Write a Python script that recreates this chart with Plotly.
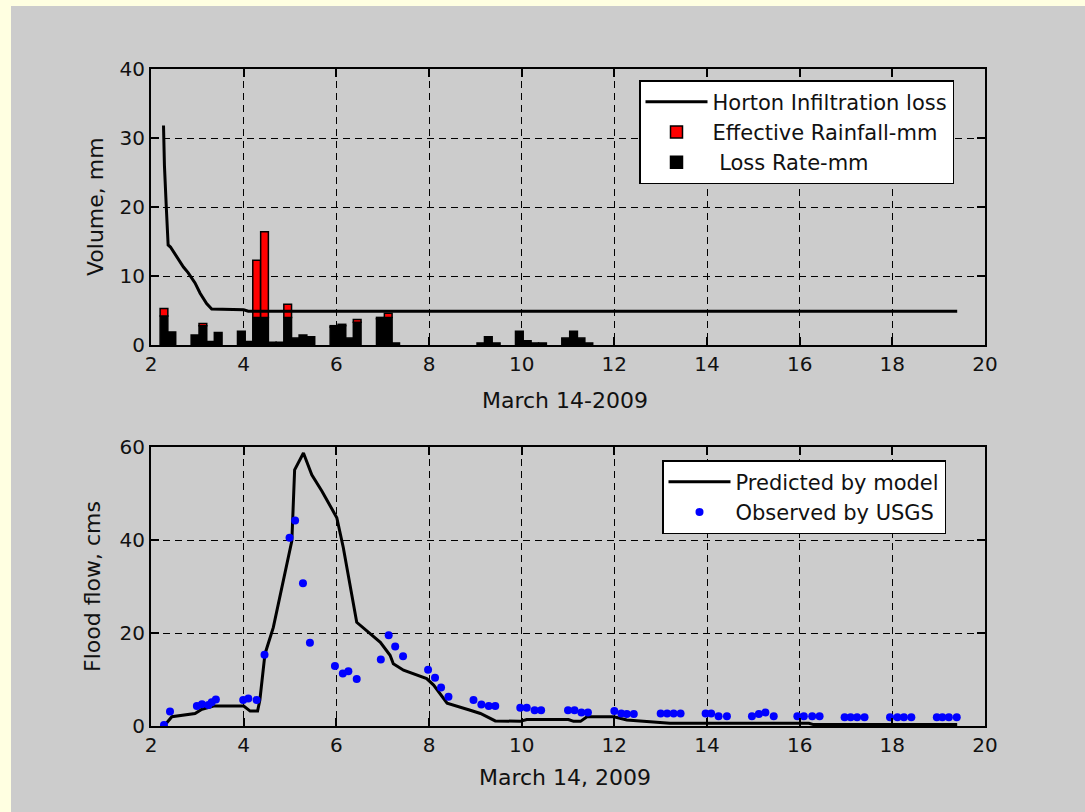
import plotly.graph_objects as go

# ---------------- data ----------------
# Top panel: rainfall bars (time in hours, March 14 2009)
bar_t = [2.28, 2.45, 2.95, 3.12, 3.28, 3.45, 3.95, 4.12, 4.28, 4.45, 4.62, 4.78,
         4.95, 5.12, 5.28, 5.45, 5.95, 6.12, 6.28, 6.45, 6.95, 7.12, 7.28,
         9.12, 9.28, 9.45, 9.95, 10.12, 10.28, 10.45, 10.95, 11.12, 11.28, 11.45]
loss_rate = [4.2, 1.9, 1.45, 2.8, 0.5, 1.8, 2.0, 0.5, 4.0, 4.0, 0.4, 0.4,
             4.0, 1.0, 1.45, 1.2, 2.6, 2.8, 1.0, 3.3, 3.8, 4.0, 0.3,
             0.3, 1.2, 0.3, 2.0, 0.6, 0.3, 0.3, 1.0, 2.0, 1.0, 0.3]
eff_rain = [1.1, 0, 0, 0.3, 0, 0, 0, 0, 8.3, 12.4, 0, 0,
            1.9, 0, 0, 0, 0.2, 0.2, 0, 0.4, 0.2, 0.6, 0,
            0, 0, 0, 0, 0, 0, 0, 0, 0, 0, 0]

# Horton infiltration loss curve
horton_t = [2.27, 2.29, 2.33, 2.37, 2.42, 2.55, 2.70, 2.80, 2.95, 3.06, 3.20, 3.31, 4.00, 4.10, 19.40]
horton_v = [31.8, 26.0, 20.0, 14.5, 14.2, 12.8, 11.3, 10.5, 9.0, 7.5, 6.0, 5.2, 5.1, 4.9, 4.9]

# Bottom panel: flood flow
pred_t = [2.30, 2.45, 2.95, 3.10, 3.35, 4.00, 4.14, 4.30, 4.35, 4.46, 4.64, 5.04, 5.10,
          5.29, 5.47, 5.69, 6.01, 6.15, 6.44, 6.66, 6.95, 7.16, 7.23, 7.45, 7.95, 8.10,
          8.39, 8.89, 9.11, 9.43, 9.97, 10.11, 11.01, 11.12, 11.27, 11.41, 11.99, 12.27,
          12.99, 13.20, 16.20, 16.30, 19.40]
pred_v = [0.2, 2.0, 2.7, 3.6, 4.3, 4.3, 3.2, 3.2, 5.6, 15.5, 21.2, 39.8, 55.1,
          58.7, 54.0, 50.5, 44.8, 38.4, 22.3, 20.5, 18.0, 15.2, 13.4, 12.0, 10.2, 8.8,
          4.9, 3.4, 2.7, 1.1, 1.0, 1.4, 1.4, 1.0, 1.0, 2.0, 2.0, 1.3,
          0.7, 0.6, 0.6, 0.3, 0.3]

obs_t = [2.28, 2.41, 2.99, 3.10, 3.24, 3.31, 3.40, 3.99, 4.10, 4.28, 4.45,
         4.99, 5.11, 5.28, 5.43, 5.97, 6.14, 6.26, 6.44, 6.96, 7.13, 7.27, 7.44,
         7.98, 8.13, 8.26, 8.42, 8.96, 9.13, 9.29, 9.43, 9.97, 10.11, 10.28, 10.42,
         11.00, 11.14, 11.29, 11.43, 12.00, 12.15, 12.27, 12.42, 13.00, 13.14, 13.28, 13.43,
         13.97, 14.09, 14.25, 14.43, 14.97, 15.12, 15.26, 15.44, 15.95, 16.09, 16.27, 16.43,
         16.97, 17.10, 17.24, 17.40, 17.95, 18.11, 18.25, 18.41, 18.96, 19.08, 19.22, 19.39]
obs_v = [0.2, 3.1, 4.3, 4.7, 4.5, 5.1, 5.7, 5.6, 5.9, 5.6, 15.3,
         40.5, 44.2, 30.7, 17.9, 12.9, 11.3, 11.8, 10.1, 14.3, 19.5, 17.1, 15.0,
         12.1, 10.4, 8.3, 6.3, 5.6, 4.6, 4.3, 4.3, 3.9, 3.9, 3.4, 3.4,
         3.4, 3.4, 2.9, 2.9, 3.2, 2.7, 2.6, 2.6, 2.7, 2.7, 2.7, 2.7,
         2.7, 2.7, 2.1, 2.1, 2.1, 2.6, 2.9, 2.1, 2.1, 2.1, 2.1, 2.1,
         1.9, 1.9, 1.9, 1.9, 1.9, 1.9, 1.9, 1.9, 1.9, 1.9, 1.9, 1.9]

x_ticks = [2, 4, 6, 8, 10, 12, 14, 16, 18, 20]
top_yticks = [0, 10, 20, 30, 40]
bot_yticks = [0, 20, 40, 60]

# ---------------- figure ----------------
W, H = 1085, 812
FONT = "DejaVu Sans, Verdana, sans-serif"
FS = 20     # tick labels
TFS = 22    # axis titles
LFS = 21    # legend
TXT = "#111111"

red_t = [t for t, e in zip(bar_t, eff_rain) if e > 0]
red_v = [e for e in eff_rain if e > 0]
red_b = [l for l, e in zip(loss_rate, eff_rain) if e > 0]

fig = go.Figure()
fig.add_trace(go.Scatter(x=horton_t, y=horton_v, mode="lines", name="Horton Infiltration loss",
                         line=dict(color="black", width=3), xaxis="x", yaxis="y",
                         legend="legend", legendrank=1))
fig.add_trace(go.Bar(x=bar_t, y=loss_rate, name=" Loss Rate-mm", width=1/6,
                     marker=dict(color="black", line=dict(color="black", width=1.5)),
                     xaxis="x", yaxis="y", legend="legend", legendrank=3))
fig.add_trace(go.Bar(x=red_t, y=red_v, base=red_b, name="Effective Rainfall-mm", width=1/6,
                     marker=dict(color="#FF0000", line=dict(color="black", width=1.5)),
                     xaxis="x", yaxis="y", legend="legend", legendrank=2))

fig.add_trace(go.Scatter(x=pred_t, y=pred_v, mode="lines", name="Predicted by model",
                         line=dict(color="black", width=3), xaxis="x2", yaxis="y2",
                         legend="legend2", legendrank=1))
fig.add_trace(go.Scatter(x=obs_t, y=obs_v, mode="markers", name="Observed by USGS",
                         marker=dict(color="#0000FF", size=8), xaxis="x2", yaxis="y2",
                         legend="legend2", legendrank=2))

xl, xr = 151 / W, 985 / W
top_dom = [1 - 345 / H, 1 - 69 / H]
bot_dom = [1 - 726 / H, 1 - 447 / H]

axis_common = dict(showline=True, linecolor="black", linewidth=2, mirror="ticks",
                   ticks="inside", ticklen=8, tickwidth=1.5, tickcolor="black",
                   showgrid=True, gridcolor="black", gridwidth=1.3, griddash="7px,5px",
                   zeroline=False, automargin=False,
                   tickfont=dict(family=FONT, size=FS, color=TXT))

fig.update_layout(
    template="none",
    width=W, height=H,
    autosize=False,
    margin=dict(l=0, r=0, t=0, b=0, pad=0, autoexpand=False),
    paper_bgcolor="#FFFFE1",
    plot_bgcolor="white",
    barmode="overlay",
    showlegend=True,
    xaxis=dict(domain=[xl, xr], anchor="y", range=[2, 20], tickvals=x_ticks, **axis_common),
    yaxis=dict(domain=top_dom, anchor="x", range=[0, 40], tickvals=top_yticks, **axis_common),
    xaxis2=dict(domain=[xl, xr], anchor="y2", range=[2, 20], tickvals=x_ticks, **axis_common),
    yaxis2=dict(domain=bot_dom, anchor="x2", range=[0, 60], tickvals=bot_yticks, **axis_common),
    legend=dict(x=639 / W, y=1 - 80 / H, xanchor="left", yanchor="top",
                bgcolor="white", bordercolor="black", borderwidth=1.5,
                font=dict(family=FONT, size=LFS, color=TXT), itemwidth=62,
                traceorder="normal"),
    legend2=dict(x=662 / W, y=1 - 460 / H, xanchor="left", yanchor="top",
                 bgcolor="white", bordercolor="black", borderwidth=1.5,
                 font=dict(family=FONT, size=LFS, color=TXT), itemwidth=62,
                 traceorder="normal"),
    shapes=[dict(type="rect", xref="paper", yref="paper", x0=11 / W, x1=1.0,
                 y0=0, y1=1 - 6 / H, fillcolor="#CCCCCC", line=dict(width=0), layer="below")],
    annotations=[
        dict(text="Volume, mm", x=95 / W, y=1 - 207 / H, xref="paper", yref="paper",
             textangle=-90, showarrow=False, xanchor="center", yanchor="middle",
             font=dict(family=FONT, size=TFS, color=TXT)),
        dict(text="March 14-2009", x=565 / W, y=1 - 400 / H, xref="paper", yref="paper",
             showarrow=False, xanchor="center", yanchor="middle",
             font=dict(family=FONT, size=TFS, color=TXT)),
        dict(text="Flood flow, cms", x=92 / W, y=1 - 587 / H, xref="paper", yref="paper",
             textangle=-90, showarrow=False, xanchor="center", yanchor="middle",
             font=dict(family=FONT, size=TFS, color=TXT)),
        dict(text="March 14, 2009", x=565 / W, y=1 - 777 / H, xref="paper", yref="paper",
             showarrow=False, xanchor="center", yanchor="middle",
             font=dict(family=FONT, size=TFS, color=TXT)),
    ],
)

fig.write_html(
    "out.html",
    post_script="document.body.style.margin='0';document.body.style.padding='0';"
                "document.body.style.overflow='hidden';",
)
